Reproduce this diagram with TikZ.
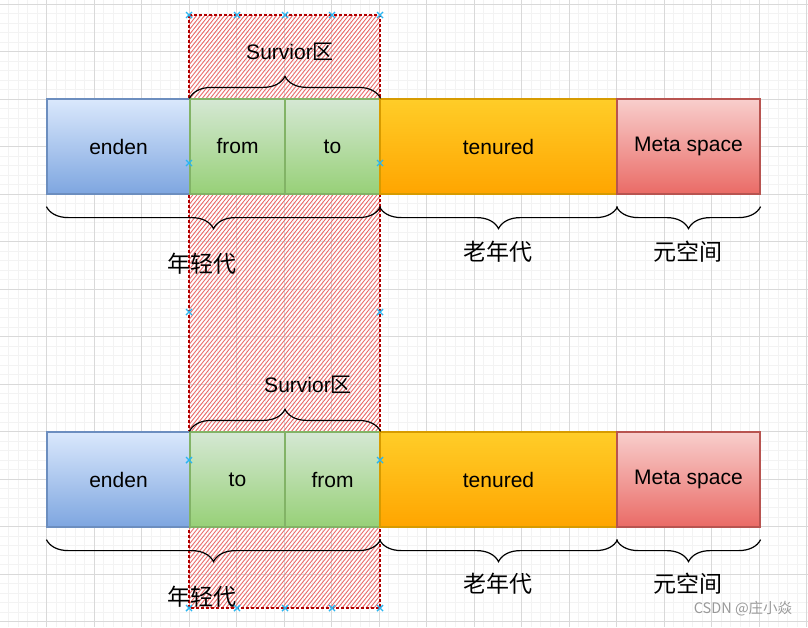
\documentclass[tikz,border=0pt]{standalone}
\usepackage{fontspec}
\setmainfont{Liberation Sans}
\newfontfamily\cjk{Noto Sans CJK SC}
\usetikzlibrary{decorations.pathreplacing}
\definecolor{bTop}{HTML}{DAE8FC}\definecolor{bBot}{HTML}{7EA6E0}\definecolor{bLine}{HTML}{6C8EBF}
\definecolor{gTop}{HTML}{D5E8D4}\definecolor{gBot}{HTML}{97D077}\definecolor{gLine}{HTML}{82B366}
\definecolor{oTop}{HTML}{FFCD28}\definecolor{oBot}{HTML}{FFA500}\definecolor{oLine}{HTML}{D79B00}
\definecolor{rTop}{HTML}{F8CECC}\definecolor{rBot}{HTML}{EA6B66}\definecolor{rLine}{HTML}{B85450}
\definecolor{minorG}{HTML}{F3F3F3}\definecolor{majorG}{HTML}{D9D9D9}
\definecolor{hatchR}{HTML}{E65353}\definecolor{borderR}{HTML}{B20000}
\definecolor{handleB}{HTML}{29B6F2}
\begin{document}
\begin{tikzpicture}[x=1pt,y=-1pt,
  box/.style={line width=1.2pt, minimum width=#1, minimum height=95pt, inner sep=0pt,
    font=\fontsize{21}{24}\selectfont},
  bluebox/.style={box=#1, draw=bLine, top color=bTop, bottom color=bBot},
  greenbox/.style={box=#1, draw=gLine, top color=gTop, bottom color=gBot},
  orangebox/.style={box=#1, draw=oLine, top color=oTop, bottom color=oBot},
  redbox/.style={box=#1, draw=rLine, top color=rTop, bottom color=rBot},
  minorline/.style={draw=minorG, line width=0.8pt},
  majorline/.style={draw=majorG, line width=1pt},
  hatchline/.style={draw=hatchR!85, line width=0.9pt},
  areaborder/.style={draw=borderR, line width=1.2pt, dash pattern=on 3pt off 2pt},
  bracedown/.style={draw=black, line width=1.2pt, decorate, decoration={brace, amplitude=22pt, raise=12pt}},
  braceup/.style={draw=black, line width=1.2pt, decorate, decoration={brace, amplitude=22pt}},
  cjklabel/.style={font=\cjk\fontsize{23}{26}\selectfont},
  survlabel/.style={font=\fontsize{21}{24}\selectfont},
  handle/.style={draw=handleB, line width=1.4pt}
]
\useasboundingbox (0,0) rectangle (808,627);
\fill[white] (0,0) rectangle (808,627);
% grid
\foreach \i in {0,...,86} { \draw[minorline] ({-0.8+9.5*\i},0) -- ++(0,627); }
\foreach \i in {0,...,67} { \draw[minorline] (0,{-5.5+9.5*\i}) -- ++(808,0); }
\foreach \i in {0,...,17} { \draw[majorline] ({-0.8+47.5*\i},0) -- ++(0,627); }
\foreach \i in {0,...,13} { \draw[majorline] (0,{4+47.5*\i}) -- ++(808,0); }
% hatched survivor area
\begin{scope}
  \clip (189,15) rectangle (380,608);
  \foreach \i in {0,...,170} { \draw[hatchline] ({-290+4*\i},608) -- ++(475,-593); }
\end{scope}
\draw[areaborder] (189,15) rectangle (380,608);
% row 1
\node[bluebox=143pt] (enden1) at (118.5,146.5) {enden};
\node[greenbox=95pt] (from1) at (237.5,146.5) {from};
\node[greenbox=95pt] (to1) at (332.5,146.5) {to};
\node[orangebox=237pt] (ten1) at (498.5,146.5) {tenured};
\node[redbox=143pt] (meta1) at (688.5,146.5) {Meta space};
\draw[braceup] (from1.north west) -- (to1.north east);
\draw[bracedown] (to1.south east) -- (enden1.south west);
\draw[bracedown] (ten1.south east) -- (ten1.south west);
\draw[bracedown] (meta1.south east) -- (meta1.south west);
\node[survlabel] (surv1) at (290,52) {Survior{\cjk 区}};
\node[cjklabel] (young1) at (202,264) {年轻代};
\node[cjklabel] (old1) at (498,252) {老年代};
\node[cjklabel] (metaL1) at (688,252) {元空间};
% row 2
\node[bluebox=143pt] (enden2) at (118.5,479.5) {enden};
\node[greenbox=95pt] (to2) at (237.5,479.5) {to};
\node[greenbox=95pt] (from2) at (332.5,479.5) {from};
\node[orangebox=237pt] (ten2) at (498.5,479.5) {tenured};
\node[redbox=143pt] (meta2) at (688.5,479.5) {Meta space};
\draw[braceup] (to2.north west) -- (from2.north east);
\draw[bracedown] (from2.south east) -- (enden2.south west);
\draw[bracedown] (ten2.south east) -- (ten2.south west);
\draw[bracedown] (meta2.south east) -- (meta2.south west);
\node[survlabel] (surv2) at (308,385) {Survior{\cjk 区}};
\node[cjklabel] (young2) at (202,597) {年轻代};
\node[cjklabel] (old2) at (498,584) {老年代};
\node[cjklabel] (metaL2) at (688,584) {元空间};
% selection handles
\foreach \p in {(189,15),(237,15),(285,15),(332,15),(380,15),(189,163),(380,163),(189,312),(380,312),(189,460),(380,460),(189,608),(237,608),(285,608),(332,608),(380,608)} {
  \draw[handle] \p +(-3,-3) -- +(3,3) +(-3,3) -- +(3,-3);
}
% watermark
\node[font=\cjk\fontsize{14.5}{16}\selectfont, text=black!40] (wm) at (743,609) {CSDN @庄小焱};
\end{tikzpicture}
\end{document}
